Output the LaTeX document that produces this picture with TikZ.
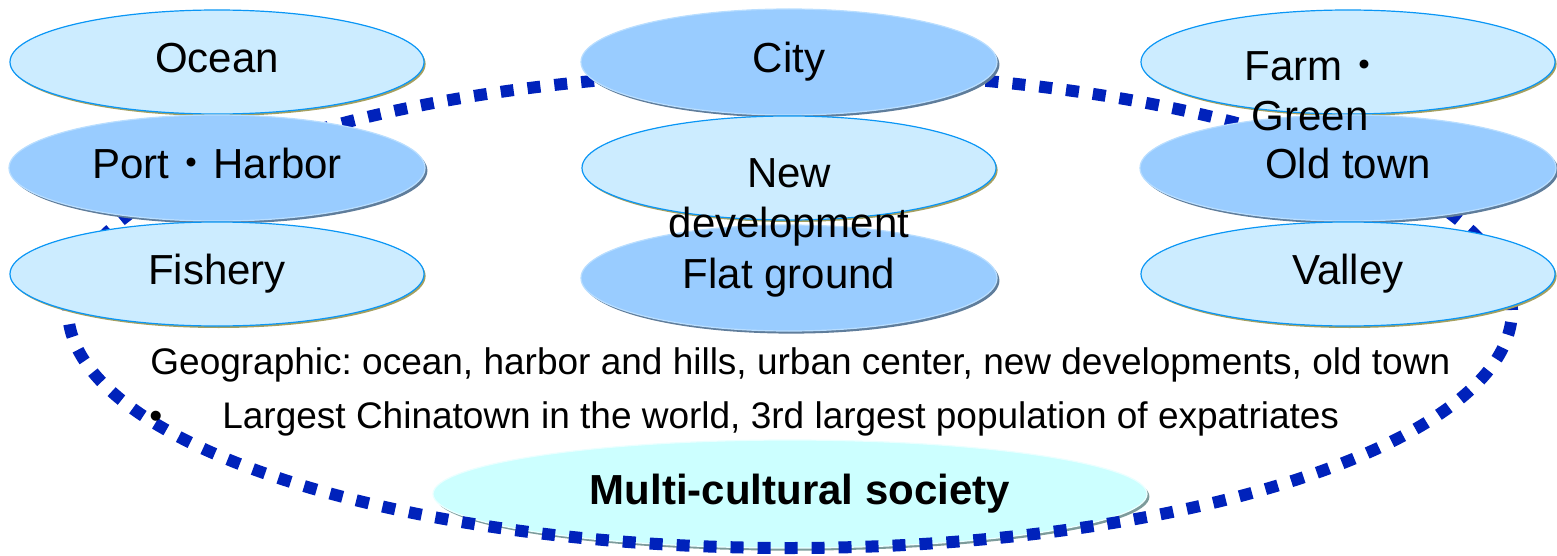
\documentclass[tikz,border=0pt]{standalone}
\usepackage{fontspec}
\setmainfont{Liberation Sans}
\newfontfamily\cjk{Noto Sans CJK JP}
\usetikzlibrary{shapes.geometric, shadows, positioning}
\definecolor{lightfill}{RGB}{204,236,255}
\definecolor{lightedge}{RGB}{10,150,245}
\definecolor{lightshade}{RGB}{165,160,95}
\definecolor{darkfill}{RGB}{153,204,255}
\definecolor{darkrim}{RGB}{185,222,255}
\definecolor{darkshade}{RGB}{95,125,155}
\definecolor{societyfill}{RGB}{204,255,255}
\definecolor{societyshade}{RGB}{125,155,155}
\definecolor{ringblue}{RGB}{0,34,187}
\newcommand{\middot}{\makebox[0.5em]{\cjk ・}}
\tikzstyle{zonelight} = [ellipse, minimum width=207pt, minimum height=52pt, inner sep=0pt, fill=lightfill, draw=lightedge, line width=0.6pt, drop shadow={shadow xshift=0.8pt, shadow yshift=-1pt, fill=lightshade, opacity=1}, font=\fontsize{21}{25}\selectfont, text height=15.1pt, text depth=4.4pt]
\tikzstyle{zonedark} = [ellipse, minimum width=208pt, minimum height=53pt, inner sep=0pt, fill=darkfill, draw=darkrim, line width=0.6pt, drop shadow={shadow xshift=1.2pt, shadow yshift=-1.3pt, fill=darkshade, opacity=1}, font=\fontsize{21}{25}\selectfont, text height=15.1pt, text depth=4.4pt]
\tikzstyle{society} = [ellipse, minimum width=357pt, minimum height=54pt, inner sep=0pt, fill=societyfill, draw=white!60!societyfill, line width=0.6pt, drop shadow={shadow xshift=1.2pt, shadow yshift=-1.3pt, fill=societyshade, opacity=1}, font=\fontsize{21}{25}\selectfont, text height=15.1pt, text depth=4.4pt]
\tikzstyle{dotring} = [ellipse, minimum width=722pt, minimum height=238pt, draw=ringblue, line width=6pt, dash pattern=on 6.5pt off 7pt]
\tikzstyle{floattext} = [align=center, inner sep=0pt, font=\fontsize{21}{25}\selectfont]
\tikzstyle{bodytext} = [anchor=base west, inner sep=0pt, font=\fontsize{18.5}{22}\selectfont]
\frenchspacing

\begin{document}
\begin{tikzpicture}[x=0.5pt, y=-0.5pt, node distance=53pt]
\useasboundingbox (0,0) rectangle (1557,556);
\node (society) [society] at (790,494) {\bfseries\hspace{10pt}Multi-cultural society};
\node (ring) [dotring] at (790,310) {};
\node (ocean) [zonelight] at (217,62) {Ocean};
\node (port) [zonedark, below of=ocean] {Port \middot{} Harbor};
\node (fishery) [zonelight, below of=port] {Fishery};
\node (city) [zonedark, right of=ocean, xshift=233pt] {City};
\node (newdev) [zonelight, below of=city] {};
\node (flat) [zonedark, below of=newdev, yshift=-2pt] {Flat ground};
\node (farm) [zonelight, right of=city, xshift=226.5pt] {};
\node (oldtown) [zonedark, below of=farm] {Old town};
\node (valley) [zonelight, below of=oldtown] {Valley};
%\node (newtxt) [floattext] at (newdev) {New development};
\node (newtxt) [floattext, anchor=north] at ([yshift=5pt]newdev.center) {New\\development};
\node (farmtxt) [floattext, anchor=north] at ([xshift=-19pt, yshift=5.5pt]farm.center) {Farm \middot\\Green};
\node (geo) [bodytext] at (150,374) {Geographic: ocean, harbor and hills, urban center, new developments, old town};
\node (chinatown) [bodytext] at (149,428) {•\hspace{30pt}Largest Chinatown in the world, 3rd largest population of expatriates};
\end{tikzpicture}
\end{document}
